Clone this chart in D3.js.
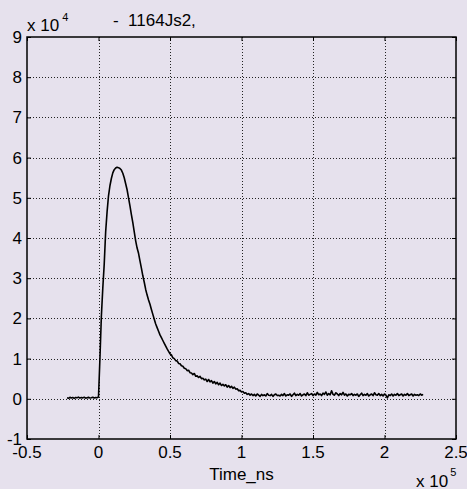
<!DOCTYPE html>
<html>
<head>
<meta charset="utf-8">
<script src="https://cdn.jsdelivr.net/npm/d3@7"></script>
<style>
  html, body { margin: 0; padding: 0; background: #E6E1ED; }
  svg { display: block; }
  text { font-family: "Liberation Sans", Arial, Helvetica, sans-serif; fill: #000; }
</style>
</head>
<body>
<svg id="chart" width="467" height="489"></svg>
<script>
// ---- data ----
const titleText = "-  1164Js2,";
const xLabel = "Time_ns";
const xTicks = [-0.5, 0, 0.5, 1, 1.5, 2, 2.5];       // x 10^5
const yTicks = [-1, 0, 1, 2, 3, 4, 5, 6, 7, 8, 9];    // x 10^4
const xExp = 5, yExp = 4;

// sample times in units of 1000 ns
const timeKns = [
  -22,-21,-20,-19,-18,-17,-16,-15,-14,-13,-12,-11,-10,-9,-8,-7,-6,-5,-4,-3,-2,-1,
  0,1,2,3,4,5,6,7,8,9,10,11,12,13,14,15,16,17,18,19,20,21,22,23,24,25,26,27,28,29,
  30,31,32,33,34,35,36,37,38,39,40,41,42,43,44,45,46,47,48,49,50,
  51,52,53,54,55,56,57,58,59,60,61,62,63,64,65,66,67,68,69,70,71,72,73,74,75,76,77,78,79,
  80,81,82,83,84,85,86,87,88,89,90,91,92,93,94,95,96,97,98,99,100,101,102,103,104,105,106,107,
  108,109,110,111,112,113,114,115,116,117,118,119,120,121,122,123,124,125,126,127,
  128,129,130,131,132,133,134,135,136,137,138,139,140,141,142,143,144,145,146,147,
  148,149,150,151,152,153,154,155,156,157,158,159,160,161,162,163,164,165,166,167,
  168,169,170,171,172,173,174,175,176,177,178,179,180,181,182,183,184,185,186,187,
  188,189,190,191,192,193,194,195,196,197,198,199,200,201,202,203,204,205,206,207,
  208,209,210,211,212,213,214,215,216,217,218,219,220,221,222,223,224,225,226,227
];
// counts
const counts = [
  250,120,380,200,310,90,340,260,420,180,300,230,390,150,280,360,210,270,400,220,330,280,
  450,10000,20500,27500,33500,41500,46500,50500,53000,54800,56200,57000,57400,57600,57500,57300,56900,56100,55000,53500,
  52000,50000,48000,45800,43800,41500,39300,37500,36200,34300,
  32500,30600,29000,27200,25800,24600,23500,22200,21000,19800,18600,17700,16800,15900,15200,14500,13800,13100,12400,11800,11200,
  10900,10200,10000,9500,9400,8800,8700,8200,8100,7600,7500,7000,7100,6500,6400,6000,6300,5600,5700,5300,5600,5000,5100,4700,4900,4300,4800,4200,4500,
  3900,4300,3700,4100,3500,3900,3300,3600,3200,3500,2900,3300,2800,3100,2600,2900,2400,2500,2000,2100,1700,1800,1400,1500,1100,1300,900,1200,
  800,1100,700,1200,900,600,1100,800,1000,700,1300,900,800,1100,600,1000,1200,800,900,700,
  1100,800,1300,700,1000,900,1200,600,1000,1400,800,1100,900,1300,700,1000,1200,800,1500,900,
  1100,1300,800,1200,900,1600,1000,1200,800,1400,1100,1700,900,1300,1000,2000,1100,900,1500,1200,
  800,1300,1000,1600,900,1200,700,1100,1000,1300,800,1100,900,1200,600,1000,1400,800,1100,900,
  1300,700,1000,1200,800,1500,1000,900,1300,800,1100,700,1200,900,200,1000,800,1200,700,1100,
  900,1300,800,1000,1200,700,1100,900,1300,800,1000,1200,700,1100,900,1000,800,1200,900,1100
];

(function () {
  const svg = d3.select("#chart");
  const pL = 27, pR = 456, pT = 37, pB = 439;
  const xs = Math.pow(10, xExp), ys = Math.pow(10, yExp);

  const x = d3.scaleLinear().domain([-0.5 * xs, 2.5 * xs]).range([pL, pR]);
  const y = d3.scaleLinear().domain([-1 * ys, 9 * ys]).range([pB, pT]);

  const fontSize = 17, supSize = 11;

  // grid
  const grid = svg.append("g").attr("stroke", "#222").attr("stroke-width", 1)
    .attr("stroke-dasharray", "1,2").attr("shape-rendering", "crispEdges");
  grid.selectAll("line.gx").data(xTicks.slice(1, -1)).join("line")
    .attr("x1", d => Math.round(x(d * xs)) + 0.5).attr("x2", d => Math.round(x(d * xs)) + 0.5)
    .attr("y1", pT).attr("y2", pB);
  grid.selectAll("line.gy").data(yTicks.slice(1, -1)).join("line")
    .attr("y1", d => Math.round(y(d * ys)) + 0.5).attr("y2", d => Math.round(y(d * ys)) + 0.5)
    .attr("x1", pL).attr("x2", pR);

  // data line
  const line = d3.line()
    .x((d, i) => x(timeKns[i] * 1000))
    .y(d => y(d));
  svg.append("path").datum(counts)
    .attr("d", line)
    .attr("fill", "none")
    .attr("stroke", "#000")
    .attr("stroke-width", 1.6)
    .attr("stroke-linejoin", "round");

  // axes with inward ticks
  const xv = xTicks.map(d => d * xs), yv = yTicks.map(d => d * ys);
  const axes = [
    [d3.axisBottom(x).tickValues(xv), `translate(0,${pB})`],
    [d3.axisTop(x).tickValues(xv), `translate(0,${pT})`],
    [d3.axisLeft(y).tickValues(yv), `translate(${pL},0)`],
    [d3.axisRight(y).tickValues(yv), `translate(${pR},0)`]
  ];
  axes.forEach(([ax, tr]) => {
    const g = svg.append("g").attr("transform", tr).call(ax.tickSize(-4).tickFormat(""));
    g.select(".domain").remove();
    g.selectAll(".tick text").remove();
    g.selectAll(".tick line").attr("stroke", "#000").attr("stroke-width", 1);
  });

  // box
  svg.append("rect").attr("x", pL).attr("y", pT)
    .attr("width", pR - pL).attr("height", pB - pT)
    .attr("fill", "none").attr("stroke", "#000").attr("stroke-width", 1.5);

  // tick labels
  svg.append("g").selectAll("text").data(xTicks).join("text")
    .attr("x", d => x(d * xs)).attr("y", 458)
    .attr("text-anchor", "middle").attr("font-size", fontSize)
    .text(d => d);
  svg.append("g").selectAll("text").data(yTicks).join("text")
    .attr("x", 22).attr("y", d => y(d * ys) + 6)
    .attr("text-anchor", "end").attr("font-size", fontSize)
    .text(d => d);

  // exponents
  const ex = svg.append("text").attr("x", 27).attr("y", 31).attr("font-size", fontSize);
  ex.append("tspan").text("x 10");
  ex.append("tspan").attr("dy", -10).attr("dx", 3).attr("font-size", supSize).text(yExp);

  const ex2 = svg.append("text").attr("x", 416).attr("y", 487).attr("font-size", fontSize);
  ex2.append("tspan").text("x 10");
  ex2.append("tspan").attr("dy", -11).attr("dx", 2).attr("font-size", supSize).text(xExp);

  // x label
  svg.append("text").attr("x", (pL + pR) / 2).attr("y", 480)
    .attr("text-anchor", "middle").attr("font-size", fontSize).text(xLabel);

  // title
  svg.append("text").attr("x", 113).attr("y", 26).attr("font-size", fontSize)
    .attr("xml:space", "preserve").style("white-space", "pre").text(titleText);
})();
</script>
</body>
</html>
